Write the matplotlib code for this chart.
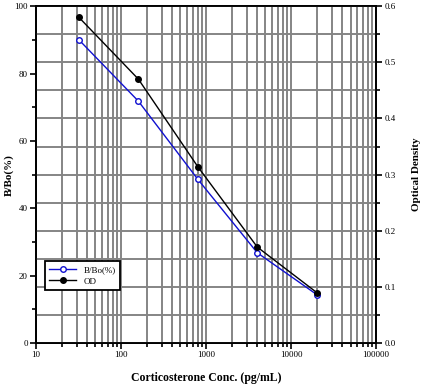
import numpy as np
import matplotlib.pyplot as plt
from matplotlib.ticker import MultipleLocator, LogLocator, NullFormatter

plt.rcParams['font.family'] = ['Liberation Serif', 'DejaVu Serif']

# standard curve data
conc = [32, 160, 800, 4000, 20000]
bbo = [90.0, 71.8, 48.6, 26.8, 14.4]
od = [0.580, 0.470, 0.314, 0.171, 0.090]

xticks = [10, 100, 1000, 10000, 100000]
xlabels = ['10', '100', '1000', '10000', '100000']

fig = plt.figure(figsize=(4.22, 3.85), dpi=100)
ax = fig.add_axes([0.0853, 0.109, 0.806, 0.875])
ax2 = ax.twinx()

ax.set_xscale('log')
ax.set_xlim(10, 100000)
ax.set_ylim(0, 100)
ax2.set_ylim(0, 0.6)

ax.set_xticks(xticks)
ax.set_xticklabels(xlabels)
ax.xaxis.set_minor_locator(LogLocator(base=10, subs=np.arange(2, 10)))
ax.xaxis.set_minor_formatter(NullFormatter())

ax.yaxis.set_major_locator(MultipleLocator(20))
ax.yaxis.set_minor_locator(MultipleLocator(10))
ax2.yaxis.set_major_locator(MultipleLocator(0.1))
ax2.yaxis.set_minor_locator(MultipleLocator(0.05))
ax2.yaxis.set_major_formatter(plt.FuncFormatter(lambda v, p: '%.1f' % v))

# vertical grid from the log x axis, horizontal grid from the OD axis
ax.grid(True, which='both', axis='x', color='#858585', lw=1.4)
ax2.grid(True, which='both', axis='y', color='#858585', lw=1.4)
ax2.set_axisbelow(True)

for a in (ax, ax2):
    for s in a.spines.values():
        s.set_linewidth(1.3)
    a.tick_params(which='both', direction='out', width=1.2, labelsize=6.5, pad=2)
    a.tick_params(which='major', length=4)
    a.tick_params(which='minor', length=3)

# both series drawn on the top axes so they sit above all gridlines
l1, = ax2.plot(conc, bbo, transform=ax.transData, color='#1010d0', lw=1,
               marker='o', ms=4, mfc='white', mec='#1010d0', mew=1, label='B/Bo(%)')
l2, = ax2.plot(conc, od, color='black', lw=1, marker='o', ms=4,
               mfc='black', mec='black', label='OD')

ax.set_xlabel('Corticosterone Conc. (pg/mL)', fontsize=8.5, fontweight='bold', labelpad=9)
ax.set_ylabel('B/Bo(%)', fontsize=8, fontweight='bold')
ax.yaxis.set_label_coords(-0.066, 0.5)
ax2.set_ylabel('Optical Density', fontsize=8, fontweight='bold')
ax2.yaxis.set_label_coords(1.105, 0.5)

leg = ax2.legend([l1, l2], ['B/Bo(%)', 'OD'], loc='lower left',
                 bbox_to_anchor=(0.026, 0.157), borderaxespad=0, fontsize=6.5,
                 frameon=True, fancybox=False, framealpha=1, edgecolor='black',
                 handlelength=3, borderpad=0.5, labelspacing=0.4)
leg.get_frame().set_linewidth(1.3)

fig.savefig('out.png', dpi=100)
